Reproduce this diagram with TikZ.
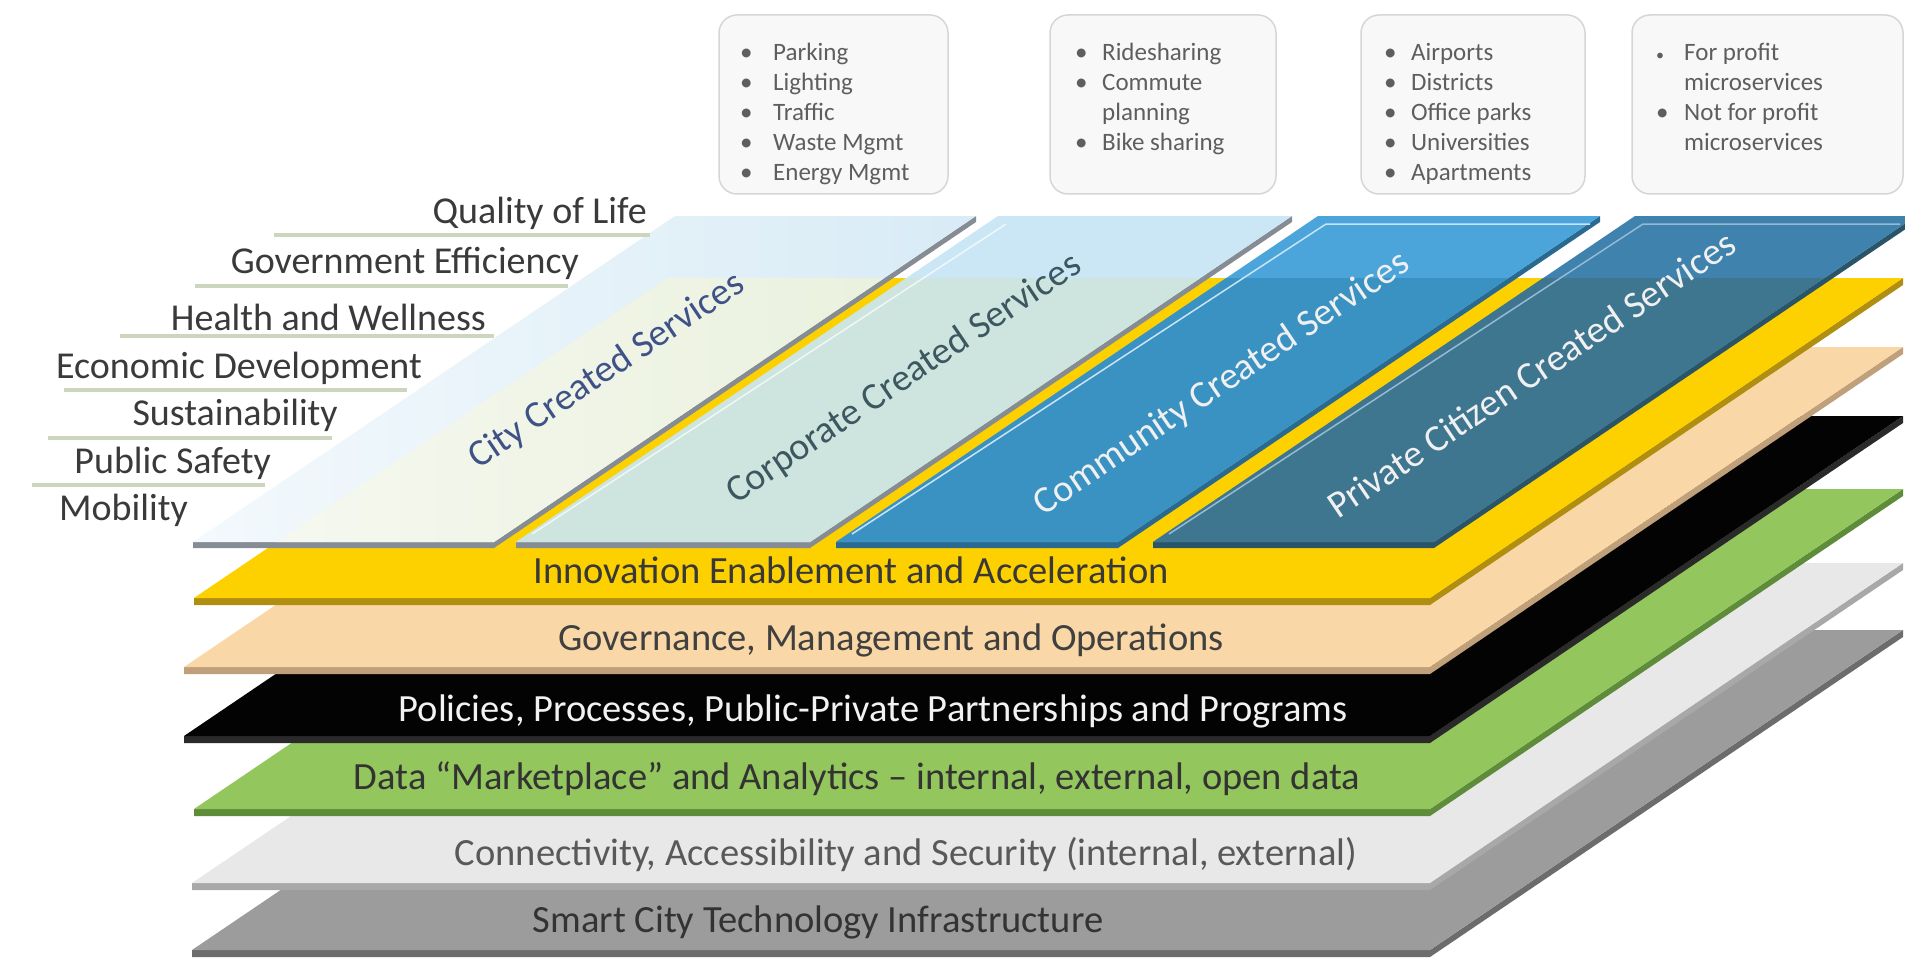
\documentclass[tikz,border=0pt]{standalone}
\usepackage{fontspec}
\setmainfont{Carlito}
\definecolor{yel}{HTML}{FDD000}
\definecolor{yeledge}{HTML}{B08E10}
\definecolor{peach}{HTML}{FAD7A6}
\definecolor{peachedge}{HTML}{BFA07A}
\definecolor{blk}{HTML}{030303}
\definecolor{blkedge}{HTML}{2A2A2A}
\definecolor{grn}{HTML}{93C65C}
\definecolor{grnedge}{HTML}{5E8C3A}
\definecolor{lgray}{HTML}{E8E8E8}
\definecolor{lgrayedge}{HTML}{A8A8A8}
\definecolor{dgray}{HTML}{9C9C9C}
\definecolor{dgrayedge}{HTML}{6C6C6C}
\definecolor{cityU}{HTML}{D8EBF6}
\definecolor{cityL}{HTML}{E9F0DC}
\definecolor{cityE}{HTML}{868C94}
\definecolor{corpU}{HTML}{CBE7F6}
\definecolor{corpL}{HTML}{CDE5DE}
\definecolor{corpE}{HTML}{868C94}
\definecolor{commU}{HTML}{4BA5DB}
\definecolor{commL}{HTML}{3A92C2}
\definecolor{commE}{HTML}{2A6A90}
\definecolor{privU}{HTML}{3F82AE}
\definecolor{privL}{HTML}{3E7690}
\definecolor{privE}{HTML}{2A5468}
\definecolor{cityT}{HTML}{3F5288}
\definecolor{corpT}{HTML}{3C5760}
\definecolor{lblgray}{HTML}{3A3A3A}
\definecolor{ulinec}{HTML}{CCD5BE}
\definecolor{boxfill}{HTML}{F8F8F8}
\definecolor{boxedge}{HTML}{D6D6D6}
\definecolor{boxtext}{HTML}{5E5E5E}
\newcommand{\drawlayer}[4]{%
  \fill[#3] (#4,#1) -- (1430,#1) -- (1903,{#1-320}) -- (1903,{#1-313}) -- (1430,{#1+7}) -- (#4,{#1+7}) -- cycle;
  \fill[#2] (#4,#1) -- (1430,#1) -- (1903,{#1-320}) -- ({#4+473},{#1-320}) -- cycle;
}
\newcommand{\drawpanel}[5]{%
  \fill[#5] (#1,542) -- (#2,542) -- ({#2+482},216) -- ({#2+482},222) -- (#2,548) -- (#1,548) -- cycle;
  \fill[#3] (#1,542) -- (#2,542) -- ({#2+482},216) -- ({#1+482},216) -- cycle;
  \begin{scope}
    \clip (194,598) -- (1430,598) -- (1903,278) -- (667,278) -- cycle;
    \fill[#4] (#1,542) -- (#2,542) -- ({#2+482},216) -- ({#1+482},216) -- cycle;
  \end{scope}
}
\begin{document}
\begin{tikzpicture}[x=1pt,y=-1pt,
  lbl/.style={font=\fontsize{38}{40}\selectfont, text=lblgray, inner sep=0pt, anchor=east},
  uline/.style={draw=ulinec, line width=3.5pt},
  laytxt/.style={font=\fontsize{38.5}{40}\selectfont, inner sep=0pt},
  paneltxt/.style={font=\fontsize{38}{40}\selectfont, rotate=34, inner sep=0pt},
  topbox/.style={draw=boxedge, line width=1.5pt, fill=boxfill, rounded corners=18pt, minimum height=179pt},
  boxtxt/.style={font=\fontsize{25}{30}\selectfont, text=boxtext, inner sep=0pt, anchor=base west}]
\useasboundingbox (0,0) rectangle (1905,960);
\fill[white] (0,0) rectangle (1905,960);
\clip (0,0) rectangle (1905,960);

% ---- stacked layers (bottom to top)
\drawlayer{950}{dgray}{dgrayedge}{192}
\drawlayer{883}{lgray}{lgrayedge}{192}
\drawlayer{809}{grn}{grnedge}{194}
\drawlayer{736}{blk}{blkedge}{184}
\drawlayer{667}{peach}{peachedge}{184}
\drawlayer{598}{yel}{yeledge}{194}

% ---- layer captions
\node[laytxt, text=black!80] (smart) at (818,922) {Smart City Technology Infrastructure};
\node[laytxt, text=black!65] (conn) at (906,855) {Connectivity, Accessibility and Security (internal, external)};
\node[laytxt, text=black!80] (data) at (857,779) {Data ``Marketplace'' and Analytics -- internal, external, open data};
\node[laytxt, text=white!95!black] (pol) at (873,711) {Policies, Processes, Public-Private Partnerships and Programs};
\node[laytxt, text=black!75] (gov) at (891,640) {Governance, Management and Operations};
\node[laytxt, text=black!78] (innov) at (851,570) {Innovation Enablement and Acceleration};

% ---- service panels
% city panel: faded towards its left side
\fill[cityE] (193,542) -- (494,542) -- (976,216) -- (976,222) -- (494,548) -- (193,548) -- cycle;
\shade[left color=white!70!cityU, right color=cityU] (193,542) -- (494,542) -- (976,216) -- (675,216) -- cycle;
\begin{scope}
  \clip (194,598) -- (1430,598) -- (1903,278) -- (667,278) -- cycle;
  \shade[left color=white!60!cityL, right color=cityL] (193,542) -- (494,542) -- (976,216) -- (675,216) -- cycle;
\end{scope}
\drawpanel{516}{810}{corpU}{corpL}{corpE}
\drawpanel{836}{1118}{commU}{commL}{commE}
\drawpanel{1153}{1434}{privU}{privL}{privE}
% inner highlights
\draw[white!70!commU, line width=1.5pt] (852,534) -- (1326,224) -- (1590,224);
\draw[white!45!privU, line width=1.5pt] (1169,534) -- (1643,224) -- (1900,224);
\draw[white, opacity=0.7, line width=1.5pt] (532,534) -- (1006,224);

% ---- panel captions
\node[paneltxt, text=cityT] (pcity) at (607,371) {City Created Services};
\node[paneltxt, text=corpT] (pcorp) at (904,379) {Corporate Created Services};
\node[paneltxt, text=white!94!black] (pcomm) at (1222,384) {Community Created Services};
\node[paneltxt, text=white!94!black] (ppriv) at (1531,374) {Private Citizen Created Services};

% ---- left labels
\node[lbl] (q1) at (647,213) {Quality of Life};
\node[lbl] (q2) at (579,263) {Government Efficiency};
\node[lbl] (q3) at (486,317) {Health and Wellness};
\node[lbl] (q4) at (422,368) {Economic Development};
\node[lbl] (q5) at (338,415) {Sustainability};
\node[lbl] (q6) at (271,463) {Public Safety};
\node[lbl] (q7) at (188,510) {Mobility};
\draw[uline] (274,235) -- (650,235);
\draw[uline] (195,286) -- (568,286);
\draw[uline] (120,336) -- (494,336);
\draw[uline] (64,390) -- (407,390);
\draw[uline] (48,438) -- (332,438);
\draw[uline] (32,485) -- (265,485);

% ---- top boxes
\node[topbox, minimum width=229pt] (b1) at (833.5,104.5) {};
\node[topbox, minimum width=226pt] (b2) at (1163,104.5) {};
\node[topbox, minimum width=224pt] (b3) at (1473,104.5) {};
\node[topbox, minimum width=271pt] (b4) at (1767.5,104.5) {};
\node[boxtxt] (b1t) at (740,61) {\begin{tabular}[t]{@{}p{33pt}@{}l@{}}
\textbullet & Parking\\ \textbullet & Lighting\\ \textbullet & Traffic\\ \textbullet & Waste Mgmt\\ \textbullet & Energy Mgmt\end{tabular}};
\node[boxtxt] (b2t) at (1075,61) {\begin{tabular}[t]{@{}p{27pt}@{}l@{}}
\textbullet & Ridesharing\\ \textbullet & Commute\\ & planning\\ \textbullet & Bike sharing\end{tabular}};
\node[boxtxt] (b3t) at (1384,61) {\begin{tabular}[t]{@{}p{27pt}@{}l@{}}
\textbullet & Airports\\ \textbullet & Districts\\ \textbullet & Office parks\\ \textbullet & Universities\\ \textbullet & Apartments\end{tabular}};
\node[boxtxt] (b4t) at (1656,61) {\begin{tabular}[t]{@{}p{28pt}@{}l@{}}
{\fontsize{16}{16}\selectfont\textbullet} & For profit\\ & microservices\\ \textbullet & Not for profit\\ & microservices\end{tabular}};
\end{tikzpicture}
\end{document}
